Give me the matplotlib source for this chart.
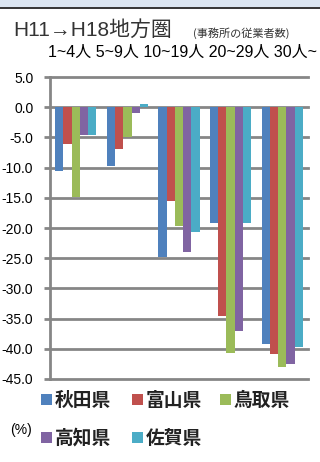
import matplotlib
matplotlib.use("Agg")
import matplotlib.pyplot as plt
from matplotlib.patches import Rectangle
import numpy as np

categories = ["1~4人", "5~9人", "10~19人", "20~29人", "30人~"]
series_names = ["秋田県", "富山県", "鳥取県", "高知県", "佐賀県"]
akita   = [-10.6, -9.8, -24.8, -19.2, -39.2]
toyama  = [-6.1, -7.0, -15.6, -34.6, -40.9]
tottori = [-14.9, -5.0, -19.7, -40.7, -43.0]
kochi   = [-4.6, -1.0, -24.0, -37.1, -42.5]
saga    = [-4.6, 0.5, -20.7, -19.2, -39.7]
yticks = [5.0, 0.0, -5.0, -10.0, -15.0, -20.0, -25.0, -30.0, -35.0, -40.0, -45.0]
colors = ["#4F81BD", "#C0504D", "#9BBB59", "#8064A2", "#4BACC6"]

CJK = ["Noto Sans CJK JP", "DejaVu Sans"]
LAT = ["Liberation Sans", "Noto Sans CJK JP", "DejaVu Sans"]

W, H = 320, 462
fig = plt.figure(figsize=(W / 100, H / 100), dpi=100)

# header band
fig.patches.append(Rectangle((0, 1 - 7 / H), 1, 7 / H, transform=fig.transFigure,
                             facecolor="#DCE6F2", edgecolor="none", zorder=0))
fig.patches.append(Rectangle((0, 1 - 9 / H), 1, 2 / H, transform=fig.transFigure,
                             facecolor="#3A3A3A", edgecolor="none", zorder=1))

ax = fig.add_axes([50 / W, (H - 379) / H, 258 / W, 302 / H])
series = [akita, toyama, tottori, kochi, saga]
x = np.arange(len(categories))
bw = 0.159
for i, (vals, c, name) in enumerate(zip(series, colors, series_names)):
    ax.bar(x + (i - 2) * bw, vals, width=bw, color=c, label=name, zorder=3)

ax.set_xlim(-0.5, 4.5)
ax.set_ylim(-45, 5)
ax.set_yticks(yticks)
ax.set_yticklabels([f"{v:.1f}" for v in yticks], family=["Liberation Sans"],
                   fontsize=10)
ax.set_xticks([])
for s in ["top", "right", "bottom"]:
    ax.spines[s].set_visible(False)
ax.spines["left"].set_color("#868686")
ax.spines["left"].set_linewidth(2)
ax.tick_params(axis="y", length=4, width=2, color="#868686", pad=8)
for v in yticks:
    ax.axhline(v, color="#868686", linewidth=2, zorder=1, clip_on=False)

# category labels on top
fig.text(48 / W, 1 - 52 / H, " ".join(categories), family=["Liberation Sans", "Noto Sans CJK JP"],
         fontsize=11.5, va="center", ha="left")

# title
fig.text(13 / W, 1 - 30 / H, "H11→H18地方圏", family=LAT, fontsize=15, va="center", ha="left",
         color="#333333")
fig.text(193 / W, 1 - 33 / H, "(事務所の従業者数)", family=CJK, fontsize=8, va="center", ha="left",
         color="#333333")

# legend
leg_pos = [(41, 400), (132, 400), (220, 400), (41, 438), (132, 438)]
for (px, py), name, c in zip(leg_pos, series_names, colors):
    fig.patches.append(Rectangle((px / W, 1 - (py + 5) / H), 11 / W, 11 / H,
                                 transform=fig.transFigure, facecolor=c, edgecolor="none"))
    fig.text((px + 14) / W, 1 - py / H, name, family=CJK, fontsize=13.5, fontweight="bold",
             va="center", ha="left", color="#222222")

fig.text(10 / W, 1 - 430 / H, "(%)", family=["Liberation Sans"],
         fontsize=10, va="center", ha="left")

fig.savefig("out.png", dpi=100)
